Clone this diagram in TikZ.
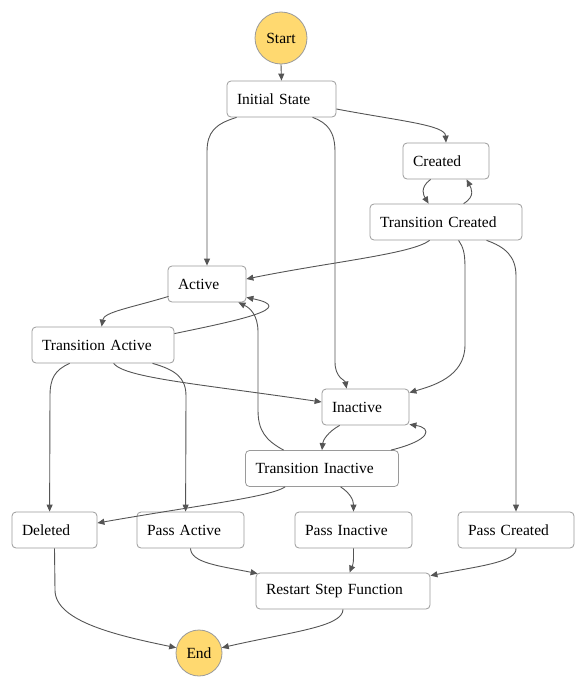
\documentclass[tikz,border=0pt]{standalone}
\usepackage{fontspec}
\setmainfont{Liberation Serif}
\usetikzlibrary{calc,arrows.meta}
\definecolor{boxline}{HTML}{9A9A9A}
\definecolor{edgecol}{HTML}{555555}
\definecolor{termfill}{HTML}{FFD970}
\tikzset{
  statebox/.style={draw=boxline, line width=0.8pt, rounded corners=4pt,
    minimum height=36pt, inner xsep=10pt, inner ysep=0pt, align=left,
    text width=#1, font=\fontsize{15.5}{18}\selectfont},
  term/.style={circle, draw=boxline, line width=0.8pt, fill=termfill,
    minimum size=#1, inner sep=0pt, font=\fontsize{15.5}{18}\selectfont},
  edge/.style={draw=edgecol, line width=0.9pt, -{Triangle[length=7pt,width=6pt]}}
}
\begin{document}
\begin{tikzpicture}[x=1pt,y=-1pt]
\useasboundingbox (0,0) rectangle (586,688);
% nodes
\node[term=52pt] (start) at (281,38) {Start};
\node[statebox=89pt] (init) at (281.5,99) {Initial State};
\node[statebox=66pt] (created) at (446,161) {Created};
\node[statebox=132pt] (tc) at (446,222) {Transition Created};
\node[statebox=58pt] (active) at (207,284) {Active};
\node[statebox=122pt] (ta) at (103,345) {Transition Active};
\node[statebox=67pt] (inactive) at (365.5,407) {Inactive};
\node[statebox=133pt] (ti) at (322,468.5) {Transition Inactive};
\node[statebox=65pt] (deleted) at (54.5,530) {Deleted};
\node[statebox=87pt] (passa) at (190.5,530) {Pass Active};
\node[statebox=97pt] (passi) at (353.5,530) {Pass Inactive};
\node[statebox=96pt] (passc) at (516,530) {Pass Created};
\node[statebox=154pt] (restart) at (343,591) {Restart Step Function};
\node[term=46pt] (end) at (199,653) {End};
% edges
\draw[edge] (start.south) -- (init.north);
\draw[edge] ($(init.east)+(0,10)$) .. controls (400,121) and (445,125) .. (created.north);
\draw[edge] ($(init.south west)+(10,0)$) .. controls (215,124) and (207,132) .. (207,152) -- (active.north);
\draw[edge] ($(init.south west)+(86,0)$) .. controls (328,123) and (335,132) .. (335,152) -- (335,362) .. controls (335,378) and (345,380) .. ($(inactive.north west)+(25,0)$);
\draw[edge] ($(created.south west)+(28,0)$) .. controls (419,188) and (424,196) .. ($(tc.north west)+(59,0)$);
\draw[edge] ($(tc.north west)+(94,0)$) .. controls (476,196) and (471,188) .. ($(created.south west)+(64,0)$);
\draw[edge] ($(tc.south west)+(60,0)$) .. controls (412,254) and (330,262) .. ($(active.east)+(0,-5)$);
\draw[edge] ($(tc.south west)+(89,0)$) .. controls (463,247) and (465,252) .. (465,268) -- (465,345) .. controls (465,377) and (432,386) .. ($(inactive.north east)+(0,4)$);
\draw[edge] ($(tc.south west)+(117,0)$) .. controls (505,247) and (516,256) .. (516,276) -- (passc.north);
\draw[edge] ($(active.south west)+(1,-6)$) .. controls (130,308) and (104,312) .. ($(ta.north west)+(70,0)$);
\draw[edge] ($(ta.north east)+(0,7)$) .. controls (240,320) and (298,308) .. ($(active.south east)+(0,-5)$);
\draw[edge] ($(ta.south west)+(82,0)$) .. controls (125,378) and (200,384) .. ($(inactive.west)+(0,-5)$);
\draw[edge] ($(ta.south west)+(38,0)$) .. controls (55,370) and (50,378) .. (50,396) -- ($(deleted.north west)+(38,0)$);
\draw[edge] ($(ta.south west)+(121,0)$) .. controls (176,370) and (186,378) .. (186,396) -- ($(passa.north west)+(49,0)$);
\draw[edge] ($(inactive.south west)+(18,0)$) .. controls (328,432) and (323,440) .. (ti.north);
\draw[edge] ($(ti.north east)+(-8,0)$) .. controls (432,440) and (432,428) .. ($(inactive.south east)+(0,-1)$);
\draw[edge] ($(ti.north west)+(38.5,0)$) .. controls (265,440) and (258,430) .. (258,410) -- (258,332) .. controls (258,315) and (250,308) .. ($(active.south east)+(-8,0)$);
\draw[edge] ($(ti.south west)+(40,0)$) .. controls (270,497) and (200,505) .. ($(deleted.east)+(0,-7)$);
\draw[edge] ($(ti.south west)+(95.5,0)$) .. controls (350,493) and (353.5,500) .. (passi.north);
\draw[edge] (passa.south) .. controls (191,563) and (220,566) .. ($(restart.north west)+(2,1)$);
\draw[edge] (passi.south) -- (353.5,558) .. controls (353.5,566) and (351,569) .. ($(restart.north west)+(94,0)$);
\draw[edge] (passc.south) .. controls (517,562) and (480,566) .. ($(restart.north east)+(0,3)$);
\draw[edge] (deleted.south) -- (55,590) .. controls (55,622) and (120,636) .. (end.167);
\draw[edge] (restart.south) .. controls (343,627) and (290,632) .. (end.13);
\end{tikzpicture}
\end{document}
